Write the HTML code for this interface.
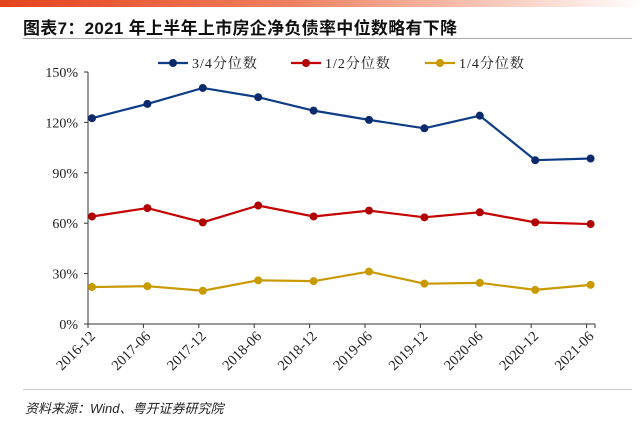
<!DOCTYPE html>
<html><head><meta charset="utf-8"><style>
body{margin:0;width:643px;height:427px;background:#fff;overflow:hidden;position:relative;font-family:"Liberation Sans","Noto Sans CJK SC",sans-serif}
#bar{position:absolute;left:0;top:0;width:643px;height:7px;background:linear-gradient(90deg,#e5431c,#ee8060 45%,#f8d0c4 80%,#fff)}
#title{position:absolute;left:23px;top:14px;font-size:17px;font-weight:bold;color:#111;letter-spacing:0.3px}
.hr{position:absolute;left:23px;width:609px;height:1px;background:#aaa}
#src{position:absolute;left:25px;top:398px;font-size:13px;font-style:italic;color:#222}
</style></head><body>
<div id="bar"></div>
<div id="title">图表7：2021 年上半年上市房企净负债率中位数略有下降</div>
<div class="hr" style="top:38px"></div>
<svg id="chart" width="643" height="427" style="position:absolute;left:0;top:0"></svg>
<div class="hr" style="top:389px;background:#ccc"></div>
<div id="src">资料来源：Wind、粤开证券研究院</div>
<script>
const categories=["2016-12","2017-06","2017-12","2018-06","2018-12","2019-06","2019-12","2020-06","2020-12","2021-06"];
const q3=[122.5,131,140.5,135,127,121.5,116.5,124,97.5,98.5];
const q2=[64,69,60.5,70.5,64,67.5,63.5,66.5,60.5,59.5];
const q1=[22,22.5,19.8,26,25.5,31.2,24,24.5,20.3,23.3];
const yTicks=[0,30,60,90,120,150];
const seriesNames=["3/4分位数","1/2分位数","1/4分位数"];
const colors=["#0e3c85","#c40000","#c89a00"];
const dotColors=["#0a2a6c","#b00000","#c89a00"];
const NS="http://www.w3.org/2000/svg";
const svg=document.getElementById('chart');
const x0=88,x1=595,yBase=324,yTop=72,step=55.4;
const y=v=>yBase-(v/150)*(yBase-yTop);
const xTick=i=>x0+i*step;
const xPt=i=>x0+4+i*step;
function mk(t,a){const e=document.createElementNS(NS,t);for(const k in a)e.setAttribute(k,a[k]);svg.appendChild(e);return e;}
let e=mk('line',{x1:x0,y1:yTop,x2:x0,y2:yBase,stroke:'#333','stroke-width':1});

e=mk('line',{x1:x0,y1:yBase,x2:x1,y2:yBase,stroke:'#333','stroke-width':1});

yTicks.forEach(v=>{
 mk('line',{x1:x0-4,y1:y(v),x2:x0,y2:y(v),stroke:'#333'});
 const t=mk('text',{x:x0-10,y:y(v)+5,'text-anchor':'end','font-size':14,'font-family':'Liberation Serif,serif',fill:'#222'});
 t.textContent=v+'%';
 
 
});
categories.forEach((c,i)=>{
 mk('line',{x1:xTick(i),y1:yBase,x2:xTick(i),y2:yBase+4,stroke:'#333'});
 const t=mk('text',{x:0,y:0,'text-anchor':'end','font-size':14.5,'font-family':'Liberation Serif,serif',fill:'#222',transform:`translate(${xTick(i)+8},${yBase+13}) rotate(-45)`});
 t.textContent=c;
 
 
});
mk('line',{x1:x1,y1:yBase,x2:x1,y2:yBase+4,stroke:'#333'});
[q3,q2,q1].forEach((s,k)=>{
 const p=mk('polyline',{points:s.map((v,i)=>xPt(i)+','+y(v)).join(' '),fill:'none',stroke:colors[k],'stroke-width':2.2});
 
 
 s.forEach((v,i)=>{
  const d=mk('circle',{cx:xPt(i),cy:y(v),r:4,fill:dotColors[k]});
  
  
 });
});
const lx=[158,291,425];
seriesNames.forEach((n,k)=>{
 mk('line',{x1:lx[k],y1:63,x2:lx[k]+30,y2:63,stroke:colors[k],'stroke-width':2.2});
 mk('circle',{cx:lx[k]+15,cy:63,r:4,fill:dotColors[k]});
 const t=mk('text',{x:lx[k]+34,y:68,'font-size':14,'font-family':'Liberation Serif,Noto Serif CJK SC,serif',fill:'#222','letter-spacing':'1'});
 t.textContent=n;
 
 
});
</script>
</body></html>
